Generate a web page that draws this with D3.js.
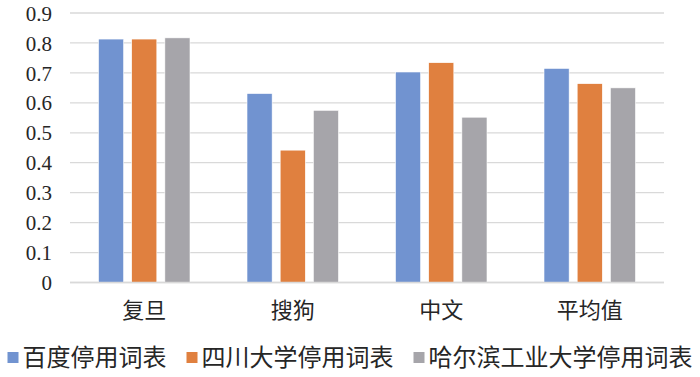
<!DOCTYPE html>
<html><head><meta charset="utf-8">
<script src="https://cdn.jsdelivr.net/npm/d3@7/dist/d3.min.js"></script>
<style>
html,body{margin:0;padding:0;background:#fff;}
svg{display:block;}
</style>
</head><body>
<svg id="chart" width="700" height="377"></svg>
<script>
const categories = ["复旦", "搜狗", "中文", "平均值"];
const seriesNames = ["百度停用词表", "四川大学停用词表", "哈尔滨工业大学停用词表"];
const baidu = [0.813, 0.631, 0.703, 0.715];
const scu = [0.813, 0.442, 0.734, 0.664];
const hit = [0.817, 0.575, 0.552, 0.650];
const yTicks = [0, 0.1, 0.2, 0.3, 0.4, 0.5, 0.6, 0.7, 0.8, 0.9];
const colors = ["#7193d0", "#e0803f", "#a6a5aa"];

(function () {
const seriesValues = [baidu, scu, hit];
const svg = d3.select("#chart");
const pLeft = 70, pRight = 664, pTop = 13, pBottom = 282.5;
const serifFont = "Liberation Serif, DejaVu Serif, serif";
const cjkFont = "Liberation Serif, Noto Sans CJK SC, serif";

const y = d3.scaleLinear().domain([0, 0.9]).range([pBottom, pTop]);
const x0 = d3.scaleBand().domain(categories).range([pLeft, pRight]).padding(0);
const outer = 28.5;
const x1 = d3.scaleBand().domain(d3.range(seriesNames.length))
  .range([outer, x0.bandwidth() - outer]).paddingInner(0.2424).paddingOuter(0);

svg.append("g").selectAll("line").data(yTicks).join("line")
  .attr("x1", pLeft).attr("x2", pRight)
  .attr("y1", d => y(d)).attr("y2", d => y(d))
  .attr("stroke", "#d9d9d9").attr("stroke-width", 1.3);

const yAxis = d3.axisLeft(y).tickValues(yTicks).tickSize(0).tickPadding(0)
  .tickFormat(d => d === 0 ? "0" : d3.format(".1f")(d));
const yg = svg.append("g").attr("transform", `translate(52,0)`).call(yAxis);
yg.attr("font-family", serifFont).attr("font-size", 21);
yg.select(".domain").remove();
yg.selectAll("text").style("font-family", serifFont).style("font-size", "21px").attr("fill", "#262626")
  .attr("dy", "0.34em");

const groups = svg.append("g").selectAll("g").data(categories).join("g")
  .attr("transform", d => `translate(${x0(d)},0)`);
groups.selectAll("rect").data((c, ci) => seriesValues.map((s, si) => ({si, v: s[ci]})))
  .join("rect")
  .attr("x", d => x1(d.si))
  .attr("width", x1.bandwidth())
  .attr("y", d => y(d.v))
  .attr("height", d => y(0) - y(d.v))
  .attr("fill", d => colors[d.si])
  .attr("stroke", "#fff").attr("stroke-width", 0.6);

svg.append("line").attr("x1", pLeft).attr("x2", pRight).attr("y1", y(0)).attr("y2", y(0))
  .attr("stroke", "#d9d9d9").attr("stroke-width", 1.3);

const xAxis = d3.axisBottom(x0).tickSize(0).tickPadding(0);
const xg = svg.append("g").attr("transform", `translate(0,310)`).call(xAxis);
xg.attr("font-family", cjkFont);
xg.select(".domain").remove();
xg.selectAll("text").style("font-family", cjkFont).style("font-size", "22px").attr("fill", "#262626")
  .attr("dy", "0.35em").attr("y", 0);

const legend = svg.append("g");
const items = legend.selectAll("g").data(seriesNames).join("g");
items.append("rect").attr("width", 11).attr("height", 11).attr("y", -6)
  .attr("fill", (d, i) => colors[i]);
items.append("text").text(d => d).attr("x", 15).attr("dy", "0.35em")
  .style("font-family", cjkFont).style("font-size", "24px").attr("fill", "#262626");
const gap = 20;
const widths = [];
items.each(function () {
  widths.push(15 + d3.select(this).select("text").node().getComputedTextLength());
});
const total = d3.sum(widths) + gap * (widths.length - 1);
let cx = 350 - total / 2;
items.attr("transform", (d, i) => {
  const t = `translate(${cx},358)`;
  cx += widths[i] + gap;
  return t;
});
})();
</script>
</body></html>
